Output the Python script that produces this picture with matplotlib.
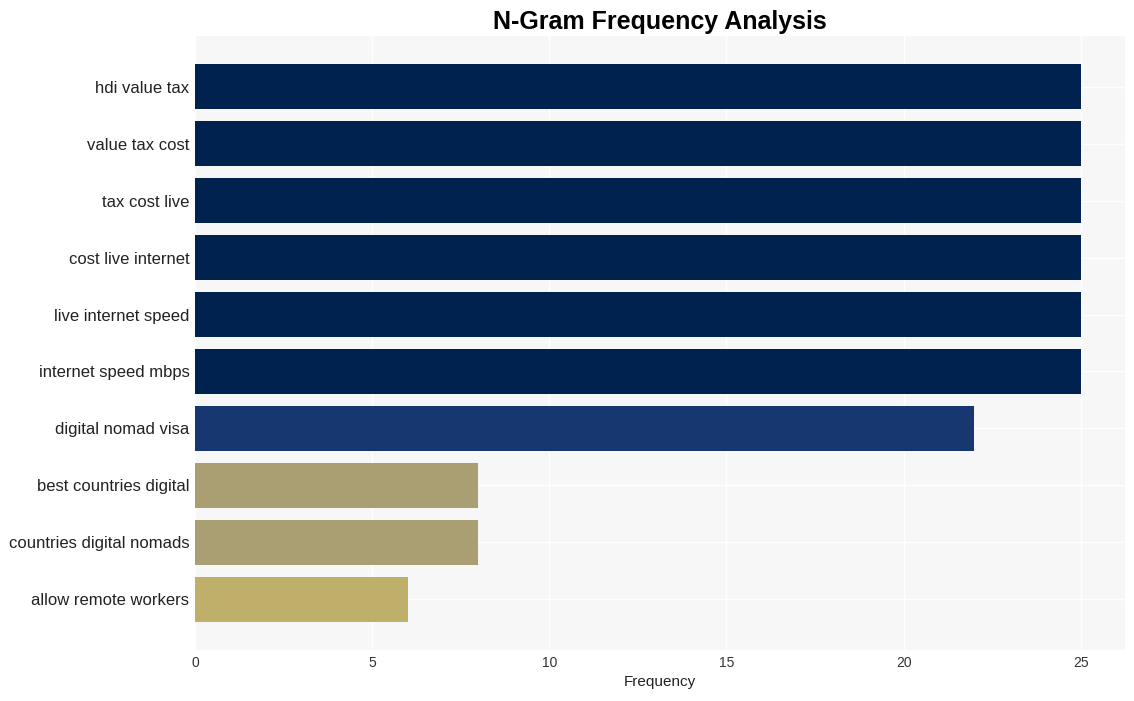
import matplotlib
matplotlib.use('Agg')
import matplotlib.pyplot as plt
from matplotlib import cm, colors

ngrams = ['hdi value tax', 'value tax cost', 'tax cost live', 'cost live internet',
          'live internet speed', 'internet speed mbps', 'digital nomad visa',
          'best countries digital', 'countries digital nomads', 'allow remote workers']
counts = [25, 25, 25, 25, 25, 25, 22, 8, 8, 6]

plt.rcParams['font.family'] = ['Liberation Sans', 'DejaVu Sans']

norm = colors.Normalize(vmin=0, vmax=max(counts))
bar_colors = [cm.cividis_r(norm(c)) for c in counts]

fig = plt.figure(figsize=(11.34, 7.01), dpi=100, facecolor='white')
ax = fig.add_axes([195/1134, 1 - 650/701, 930/1134, 614/701])
ax.set_facecolor('#f7f7f7')
ax.barh(range(len(ngrams)), counts, height=0.8, color=bar_colors, zorder=2)
ax.invert_yaxis()
ax.set_yticks(range(len(ngrams)))
ax.set_yticklabels(ngrams, fontsize=12, color='#222222')
ax.set_xticks([0, 5, 10, 15, 20, 25])
ax.tick_params(axis='x', labelsize=10, colors='#333333', length=0, pad=4)
ax.tick_params(axis='y', length=0, pad=4)
ax.grid(True, color='white', linewidth=1, zorder=0)
ax.set_axisbelow(True)
for s in ax.spines.values():
    s.set_visible(False)
ax.set_xlabel('Frequency', fontsize=11, color='#222222', labelpad=4)
ax.set_title('N-Gram Frequency Analysis', fontsize=18, fontweight='bold', pad=5)

fig.savefig('out.png', dpi=100)
